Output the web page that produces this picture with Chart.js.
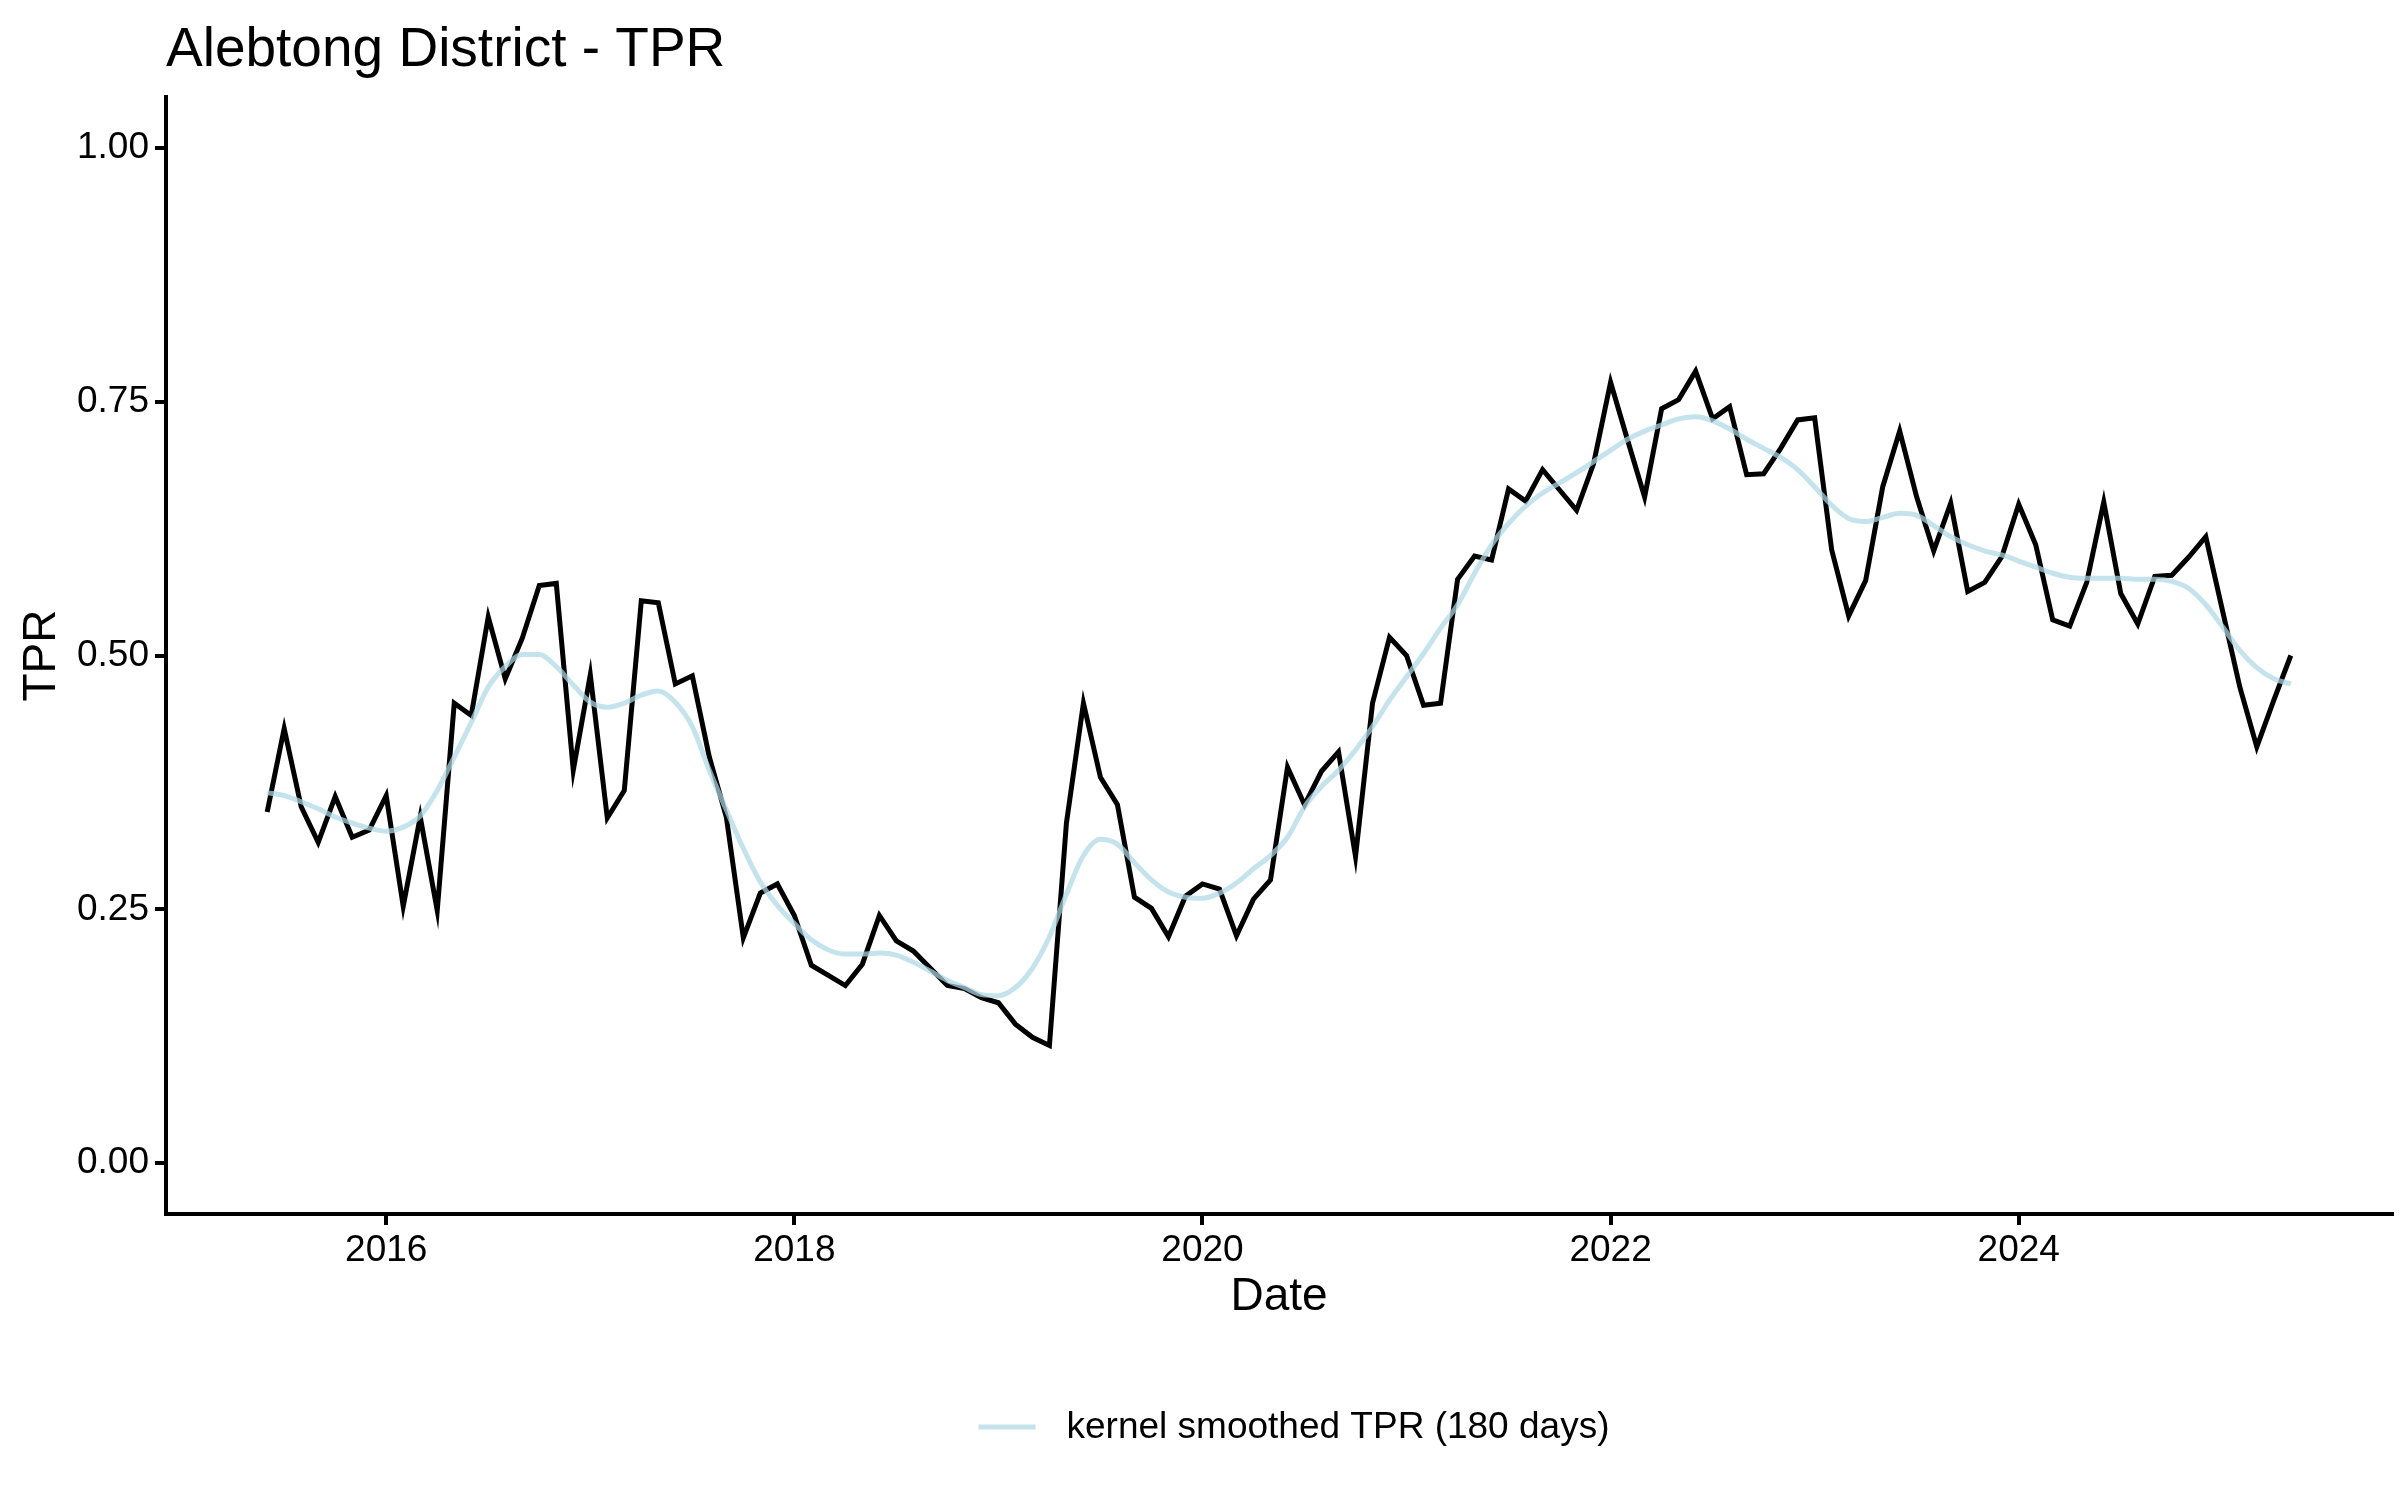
<!DOCTYPE html>
<html><head><meta charset="utf-8">
<script src="https://cdn.jsdelivr.net/npm/chart.js@4.4.1/dist/chart.umd.min.js"></script>
<style>html,body{margin:0;padding:0;background:#fff}canvas{display:block}</style>
</head><body>
<canvas id="c" width="2400" height="1500"></canvas>
<script>
const months = [
 "2015-06","2015-07","2015-08","2015-09","2015-10","2015-11","2015-12",
 "2016-01","2016-02","2016-03","2016-04","2016-05","2016-06","2016-07","2016-08","2016-09","2016-10","2016-11","2016-12",
 "2017-01","2017-02","2017-03","2017-04","2017-05","2017-06","2017-07","2017-08","2017-09","2017-10","2017-11","2017-12",
 "2018-01","2018-02","2018-03","2018-04","2018-05","2018-06","2018-07","2018-08","2018-09","2018-10","2018-11","2018-12",
 "2019-01","2019-02","2019-03","2019-04","2019-05","2019-06","2019-07","2019-08","2019-09","2019-10","2019-11","2019-12",
 "2020-01","2020-02","2020-03","2020-04","2020-05","2020-06","2020-07","2020-08","2020-09","2020-10","2020-11","2020-12",
 "2021-01","2021-02","2021-03","2021-04","2021-05","2021-06","2021-07","2021-08","2021-09","2021-10","2021-11","2021-12",
 "2022-01","2022-02","2022-03","2022-04","2022-05","2022-06","2022-07","2022-08","2022-09","2022-10","2022-11","2022-12",
 "2023-01","2023-02","2023-03","2023-04","2023-05","2023-06","2023-07","2023-08","2023-09","2023-10","2023-11","2023-12",
 "2024-01","2024-02","2024-03","2024-04","2024-05","2024-06","2024-07","2024-08","2024-09","2024-10","2024-11","2024-12",
 "2025-01","2025-02","2025-03","2025-04","2025-05"
];
const tpr = [
 0.346,0.428,0.351,0.316,0.361,0.321,0.328,
 0.362,0.253,0.341,0.249,0.453,0.441,0.538,0.477,0.517,0.569,0.571,0.387,
 0.481,0.340,0.367,0.554,0.552,0.472,0.480,0.400,0.341,0.222,0.266,0.275,
 0.244,0.195,0.185,0.175,0.196,0.244,0.219,0.209,0.192,0.175,0.172,0.163,
 0.158,0.137,0.124,0.116,0.335,0.453,0.380,0.353,0.262,0.251,0.223,0.263,
 0.275,0.270,0.224,0.260,0.279,0.390,0.353,0.386,0.405,0.302,0.453,0.518,
 0.500,0.451,0.453,0.575,0.598,0.594,0.664,0.652,0.683,0.663,0.643,0.689,
 0.769,0.712,0.656,0.743,0.752,0.780,0.733,0.745,0.678,0.679,0.704,0.732,
 0.734,0.604,0.539,0.574,0.666,0.721,0.656,0.603,0.650,0.563,0.572,0.597,
 0.649,0.609,0.535,0.529,0.572,0.651,0.561,0.531,0.578,0.579,0.597,0.617,
 0.543,0.469,0.410,0.456,0.500
];
const smoothTpr = [
 0.365,0.362,0.356,0.349,0.341,0.335,0.330,
 0.327,0.331,0.342,0.367,0.400,0.434,0.469,0.489,0.501,0.501,0.489,0.471,
 0.454,0.449,0.453,0.461,0.465,0.454,0.430,0.387,0.348,0.310,0.277,0.254,
 0.236,0.220,0.210,0.206,0.206,0.207,0.205,0.198,0.189,0.180,0.173,0.166,
 0.165,0.173,0.192,0.223,0.265,0.303,0.319,0.314,0.296,0.279,0.267,0.262,
 0.261,0.266,0.276,0.290,0.303,0.321,0.351,0.371,0.387,0.407,0.430,0.456,
 0.479,0.502,0.527,0.550,0.581,0.609,0.630,0.647,0.660,0.670,0.680,0.691,
 0.702,0.713,0.721,0.727,0.733,0.735,0.731,0.723,0.713,0.704,0.695,0.683,
 0.666,0.648,0.635,0.632,0.636,0.640,0.638,0.628,0.617,0.609,0.603,0.599,
 0.593,0.587,0.581,0.577,0.576,0.576,0.576,0.575,0.575,0.573,0.566,0.550,
 0.528,0.505,0.488,0.477,0.472
];
const xTickValues = [2016, 2018, 2020, 2022, 2024];
const yTickValues = [0, 0.25, 0.5, 0.75, 1.0];
const titleText = "Alebtong District - TPR";
const xTitle = "Date";
const yTitle = "TPR";
const legendLabel = "kernel smoothed TPR (180 days)";

const FONT = '"Liberation Sans", Arial, Helvetica, sans-serif';
const smoothColor = 'rgba(173,216,230,0.72)';

function toYear(m){ const p = m.split('-').map(Number); return p[0] + (p[1]-1)/12; }
const xs = months.map(toYear);
const xRange = xs[xs.length-1] - xs[0];
const xMin = xs[0] - 0.05*xRange, xMax = xs[xs.length-1] + 0.05*xRange;

const decor = {
  id: 'decor',
  afterDraw(chart){
    const ctx = chart.ctx, ca = chart.chartArea;
    ctx.save();
    ctx.fillStyle = '#000';
    ctx.textAlign = 'left';
    ctx.textBaseline = 'alphabetic';
    ctx.font = '55px ' + FONT;
    ctx.fillText(titleText, ca.left, 66);
    // legend
    ctx.font = '37px ' + FONT;
    const tw = ctx.measureText(legendLabel).width;
    const keyW = 57, gap = 31;
    const total = keyW + gap + tw;
    const cx = 1294, ly = 1427;
    const x0 = cx - total/2;
    ctx.strokeStyle = smoothColor; ctx.lineWidth = 5; ctx.lineCap = 'butt';
    ctx.beginPath(); ctx.moveTo(x0, ly); ctx.lineTo(x0 + keyW, ly); ctx.stroke();
    ctx.textBaseline = 'middle';
    ctx.fillText(legendLabel, x0 + keyW + gap, ly + 1);
    ctx.restore();
  }
};

new Chart(document.getElementById('c'), {
  type: 'line',
  data: {
    datasets: [
      { label: legendLabel, data: xs.map((x,i)=>({x:x, y:smoothTpr[i]})), borderColor: smoothColor,
        borderWidth: 5, pointRadius: 0, tension: 0.3, cubicInterpolationMode: 'monotone', order: 0, fill: false },
      { label: 'TPR', data: xs.map((x,i)=>({x:x, y:tpr[i]})), borderColor: '#000',
        borderWidth: 5, pointRadius: 0, tension: 0, order: 1, fill: false, borderJoinStyle: 'miter' }
    ]
  },
  options: {
    responsive: false, animation: false, devicePixelRatio: 1,
    layout: { padding: { top: 97, right: 8, bottom: 180, left: 0 } },
    plugins: { legend: { display: false }, title: { display: false }, tooltip: { enabled: false } },
    scales: {
      x: {
        type: 'linear', min: xMin, max: xMax,
        afterBuildTicks: (axis) => { axis.ticks = xTickValues.map(v => ({ value: v })); },
        afterFit: (s) => { s.height = 106; },
        grid: { display: true, drawOnChartArea: false, drawTicks: true, tickLength: 11, color: '#000', lineWidth: 4 },
        border: { display: true, color: '#000', width: 4 },
        ticks: { color: '#000', font: { family: FONT, size: 37 }, padding: 4, maxRotation: 0, autoSkip: false,
                 callback: (v) => String(v) },
        title: { display: true, text: xTitle, color: '#000', font: { family: FONT, size: 46, lineHeight: 1 }, padding: { top: 0, bottom: 0 } }
      },
      y: {
        type: 'linear', min: -0.05, max: 1.05,
        afterBuildTicks: (axis) => { axis.ticks = yTickValues.map(v => ({ value: v })); },
        afterFit: (s) => { s.width = 166; },
        grid: { display: true, drawOnChartArea: false, drawTicks: true, tickLength: 11, color: '#000', lineWidth: 4 },
        border: { display: true, color: '#000', width: 4 },
        ticks: { color: '#000', font: { family: FONT, size: 37 }, padding: 6, autoSkip: false,
                 callback: (v) => Number(v).toFixed(2) },
        title: { display: true, text: yTitle, color: '#000', font: { family: FONT, size: 46, lineHeight: 1 }, padding: { top: 19, bottom: 0 } }
      }
    }
  },
  plugins: [decor]
});
</script>
</body></html>
